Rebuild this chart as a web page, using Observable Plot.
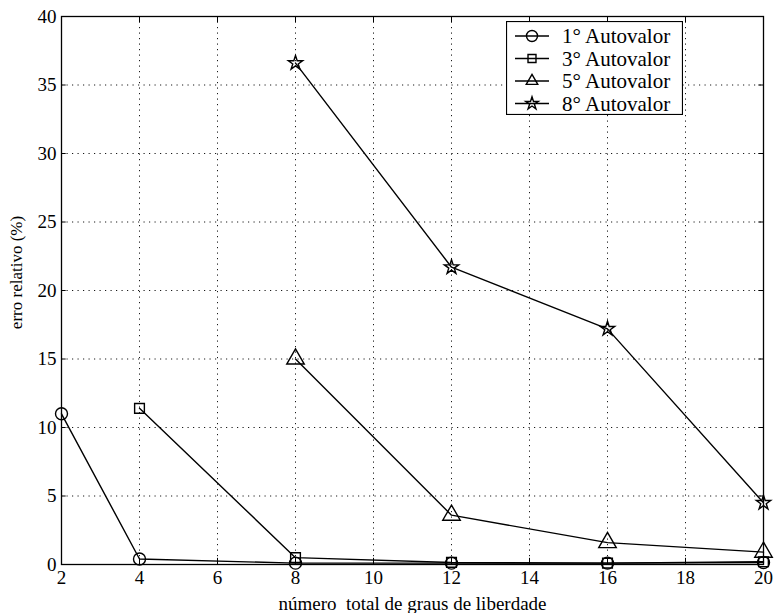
<!DOCTYPE html>
<html><head><meta charset="utf-8">
<script src="https://cdn.jsdelivr.net/npm/d3@7"></script>
<script src="https://cdn.jsdelivr.net/npm/@observablehq/plot@0.6"></script>
<style>
body{margin:0;background:#fff}
#c{position:relative;width:774px;height:613px}
#legend{position:absolute;left:506px;top:21px}
</style>
</head><body><div id="c"></div>
<script>
// Data
const xValues1 = [2, 4, 8, 12, 16, 20];
const err1 = [11.0, 0.4, 0.1, 0.1, 0.1, 0.15];
const xValues3 = [4, 8, 12, 16, 20];
const err3 = [11.4, 0.5, 0.15, 0.1, 0.2];
const xValues5 = [8, 12, 16, 20];
const err5 = [15.0, 3.6, 1.6, 0.9];
const xValues8 = [8, 12, 16, 20];
const err8 = [36.6, 21.7, 17.2, 4.5];
const seriesNames = ["1° Autovalor", "3° Autovalor", "5° Autovalor", "8° Autovalor"];
const symbolNames = ["circle", "square", "triangle", "star"];
const xTicks = [2, 4, 6, 8, 10, 12, 14, 16, 18, 20];
const yTicks = [0, 5, 10, 15, 20, 25, 30, 35, 40];
const xLabel = "número  total de graus de liberdade";
const yLabel = "erro relativo (%)";

const series = [[xValues1, err1], [xValues3, err3], [xValues5, err5], [xValues8, err8]];
const data = series.flatMap(([xs, ys], i) => xs.map((x, j) => ({x, y: ys[j], s: seriesNames[i]})));

const font = "'Liberation Serif', 'Times New Roman', serif";
const gridStyle = {stroke: "#000", strokeOpacity: 0.9, strokeWidth: 1, strokeDasharray: "1.2,4.3"};
const markerSizes = [6, 5.5, 6.5, 4.5];

const dotMarks = seriesNames.map((name, i) =>
  Plot.dot(data.filter(d => d.s === name), {
    x: "x", y: "y", symbol: "s", r: markerSizes[i],
    stroke: "#000", fill: "none", strokeWidth: 1.4
  })
);

const chart = Plot.plot({
  width: 774, height: 613,
  marginLeft: 61, marginRight: 11, marginTop: 16, marginBottom: 49,
  style: {fontFamily: font, fontSize: "19px", color: "#000", background: "#fff"},
  x: {domain: [2, 20], label: null},
  y: {domain: [0, 40], label: null},
  symbol: {domain: seriesNames, range: symbolNames},
  marks: [
    Plot.gridX(xTicks, gridStyle),
    Plot.gridY(yTicks, gridStyle),
    Plot.axisX(xTicks, {tickSize: 0, tickPadding: 6, fontSize: 19}),
    Plot.axisY(yTicks, {tickSize: 0, tickPadding: 5, fontSize: 19}),
    Plot.ruleX(xTicks, {x: d => d, y1: 0, y2: 0.45, stroke: "#000"}),
    Plot.ruleX(xTicks, {x: d => d, y1: 40, y2: 39.55, stroke: "#000"}),
    Plot.ruleY(yTicks, {y: d => d, x1: 2, x2: 2.12, stroke: "#000"}),
    Plot.ruleY(yTicks, {y: d => d, x1: 20, x2: 19.88, stroke: "#000"}),
    Plot.line(data, {x: "x", y: "y", z: "s", stroke: "#000", strokeWidth: 1.4}),
    ...dotMarks,
    Plot.frame({stroke: "#000", strokeWidth: 1.3}),
    Plot.text([yLabel], {frameAnchor: "left", textAnchor: "middle", rotate: -90, dx: -45, dy: -18, fontSize: 17}),
    Plot.text([xLabel], {frameAnchor: "bottom", lineAnchor: "middle", dy: 39, fontSize: 19})
  ]
});
document.getElementById("c").appendChild(chart);

// Legend (drawn as an overlay box, like the reference)
const lw = 177, lh = 94, rowH = 22.5;
const leg = d3.select("#c").append("svg").attr("id", "legend")
  .attr("width", lw).attr("height", lh)
  .style("font-family", font).style("font-size", "21px");
leg.append("rect").attr("x", 0.5).attr("y", 0.5).attr("width", lw - 1).attr("height", lh - 1)
  .attr("fill", "#fff").attr("stroke", "#000").attr("stroke-width", 1.2);
const d3sym = {circle: d3.symbolCircle, square: d3.symbolSquare, triangle: d3.symbolTriangle2, star: d3.symbolStar};
const legR = [5.5, 4.5, 5.5, 4];
seriesNames.forEach((name, i) => {
  const y = 15 + i * rowH;
  const g = leg.append("g").attr("transform", `translate(0,${y})`);
  g.append("line").attr("x1", 9).attr("x2", 43).attr("y1", 0).attr("y2", 0).attr("stroke", "#000").attr("stroke-width", 1.4);
  g.append("path").attr("transform", "translate(26,0)")
    .attr("d", d3.symbol(d3sym[symbolNames[i]], Math.PI * legR[i] * legR[i])())
    .attr("fill", "none").attr("stroke", "#000").attr("stroke-width", 1.4);
  g.append("text").attr("x", 56).attr("y", 0).attr("dy", "0.35em").text(name);
});
</script>
</body></html>
